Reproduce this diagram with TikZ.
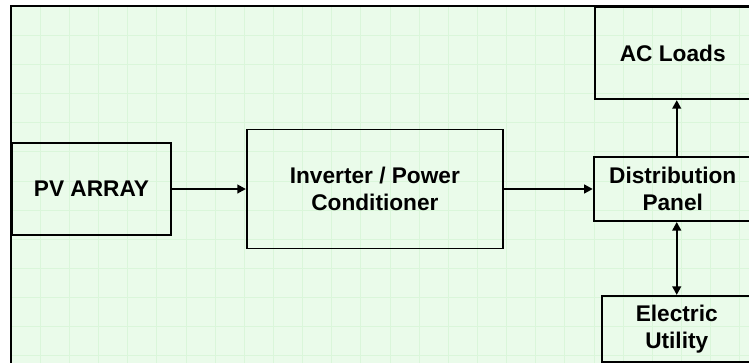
\documentclass[tikz,border=0pt]{standalone}
\usepackage{fontspec}
\setmainfont{Liberation Sans}
\usetikzlibrary{positioning,arrows.meta}
\definecolor{paper}{RGB}{234,251,234}
\definecolor{gridgreen}{RGB}{218,246,218}

\begin{document}
\begin{tikzpicture}[x=0.75pt, y=-0.75pt, node distance=42pt and 55.5pt,
  every node/.style={font=\bfseries\fontsize{17}{20.25}\selectfont},
  box/.style={rectangle, draw, line width=1.4pt, align=center, inner sep=0pt},
  >={Triangle[length=6.5pt, width=6.5pt]},
  arrow/.style={->, line width=1.8pt}]
  \useasboundingbox (0,0) rectangle (749,362);
  \clip (0,0) rectangle (749,362);
  \fill[white] (0,0) rectangle (749,362);
  \fill[paper] (11,6) rectangle (760,370);
  \foreach \k in {1,...,25} {\draw[gridgreen, line width=0.6pt] (11+29.15*\k,6) -- (11+29.15*\k,370);}
  \foreach \k in {1,...,12} {\draw[gridgreen, line width=0.6pt] (11,6+29.15*\k) -- (760,6+29.15*\k);}
  \draw[line width=1.8pt] (11,370) -- (11,6) -- (760,6);
  \node[box, minimum width=119.25pt, minimum height=69pt] (pv) at (91.5,189) {PV ARRAY};
  \node[box, minimum width=192pt, minimum height=89.25pt, right=55.5pt of pv] (inv) {Inverter / Power\\Conditioner};
  \node[box, minimum width=118.5pt, minimum height=48pt, right=66.75pt of inv] (dist) {Distribution\\Panel};
  \node[box, minimum width=116.25pt, minimum height=69pt, above=42pt of dist] (ac) {AC Loads};
  \node[box, minimum width=112.5pt, minimum height=49.5pt, below=54.75pt of dist, xshift=3pt] (util) {Electric\\Utility};
  \draw[arrow] (pv) -- (inv);
  \draw[arrow] (inv) -- (dist);
  \draw[arrow] (util.north |- dist.north) -- (util.north |- ac.south);
  \draw[arrow, <->] (util.north |- dist.south) -- (util.north);
\end{tikzpicture}
\end{document}
